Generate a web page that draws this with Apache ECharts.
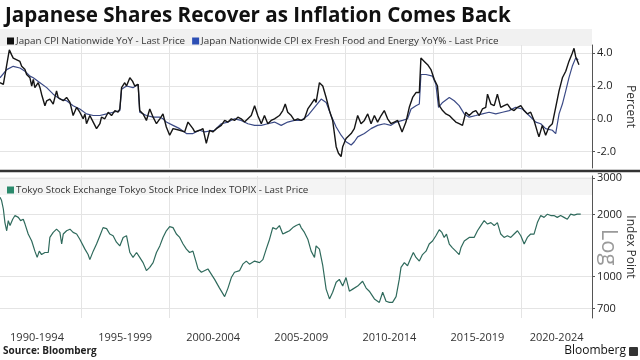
<!DOCTYPE html>
<html><head><meta charset="utf-8">
<script src="https://cdn.jsdelivr.net/npm/echarts@6/dist/echarts.min.js"></script>
<style>html,body{margin:0;padding:0;background:#fff}#c{width:640px;height:360px}</style>
</head><body><div id="c"></div>
<script>
const titleText = 'Japanese Shares Recover as Inflation Comes Back';
const cpiName = 'Japan CPI Nationwide YoY - Last Price';
const coreName = 'Japan Nationwide CPI ex Fresh Food and Energy YoY% - Last Price';
const topixName = 'Tokyo Stock Exchange Tokyo Stock Price Index TOPIX - Last Price';

const periodLabels = ['1990-1994','1995-1999','2000-2004','2005-2009','2010-2014','2015-2019','2020-2024'];
const periodCenters = [1992.5,1997.5,2002.5,2007.5,2012.5,2017.5,2022.5];
const gridYears = [1995,2000,2005,2010,2015,2020];
const pctTicks = [-2,0,2,4];
const idxTicks = [700,1000,2000,3000];

const cpiYears = [1990.40,1990.59,1990.93,1991.06,1991.15,1991.53,1991.63,1991.82,1991.91,1992.10,1992.20,1992.29,1992.38,1992.57,1992.67,1992.76,1992.95,1993.05,1993.23,1993.42,1993.61,1993.70,1993.80,1993.99,1994.18,1994.37,1994.55,1994.75,1994.93,1995.12,1995.22,1995.31,1995.50,1995.69,1995.88,1996.07,1996.16,1996.35,1996.54,1996.73,1996.92,1997.10,1997.20,1997.30,1997.48,1997.58,1997.77,1997.92,1998.05,1998.24,1998.33,1998.52,1998.71,1998.90,1999.09,1999.28,1999.47,1999.65,1999.84,2000.03,2000.22,2000.60,2000.88,2001.07,2001.35,2001.45,2001.73,2001.92,2002.11,2002.30,2002.48,2002.68,2002.77,2002.96,2003.15,2003.34,2003.53,2003.71,2003.90,2004.09,2004.28,2004.47,2004.66,2004.85,2005.03,2005.23,2005.41,2005.60,2005.79,2005.98,2006.26,2006.45,2006.59,2006.73,2006.93,2007.11,2007.30,2007.49,2007.68,2007.87,2008.06,2008.25,2008.34,2008.53,2008.72,2008.91,2009.10,2009.28,2009.48,2009.61,2009.76,2009.85,2010.04,2010.33,2010.51,2010.70,2010.89,2011.08,2011.27,2011.46,2011.65,2011.83,2012.03,2012.21,2012.40,2012.59,2012.78,2012.97,2013.22,2013.44,2013.63,2013.82,2014.01,2014.10,2014.20,2014.29,2014.48,2014.67,2014.86,2015.05,2015.23,2015.33,2015.52,2015.71,2015.90,2016.08,2016.27,2016.46,2016.65,2016.84,2017.03,2017.22,2017.41,2017.60,2017.78,2017.97,2018.07,2018.26,2018.45,2018.63,2018.82,2019.01,2019.20,2019.39,2019.58,2019.77,2019.96,2020.15,2020.33,2020.52,2020.71,2020.90,2020.99,2021.18,2021.37,2021.56,2021.75,2021.94,2022.13,2022.32,2022.51,2022.69,2022.88,2022.98,2023.07,2023.16,2023.26];
const cpiValues = [2.2,2.1,4.2,3.9,3.7,3.5,3.2,3.0,2.7,2.5,2.0,2.4,1.9,2.2,1.9,1.5,0.8,1.1,1.2,0.9,1.7,1.3,1.4,1.1,1.3,1.0,0.2,0.7,0.4,0.0,0.3,-0.3,0.2,-0.2,-0.6,-0.3,0.1,0.0,0.4,0.2,0.5,0.4,0.6,1.9,2.2,2.0,2.5,2.3,2.0,2.1,0.5,0.3,-0.1,0.6,0.1,-0.3,0.0,0.3,-0.5,-1.0,-0.6,-0.7,-0.8,-0.2,-0.6,-0.8,-0.7,-0.6,-1.5,-0.7,-0.8,-0.6,-0.7,-0.4,-0.1,-0.2,0.0,-0.1,0.1,0.0,-0.2,0.0,0.2,0.8,0.2,-0.3,0.2,-0.3,-0.1,0.0,0.2,0.5,0.9,0.4,0.2,-0.1,0.0,-0.1,0.0,0.6,0.9,1.2,1.0,2.2,2.0,1.3,0.5,-0.1,-1.7,-2.1,-2.3,-1.7,-1.2,-0.9,-0.6,0.2,-0.3,-0.1,0.3,-0.3,0.2,-0.2,0.2,0.5,0.0,-0.3,-0.2,-0.1,-0.8,-0.2,0.7,1.3,1.6,1.5,1.6,3.7,3.5,3.3,3.0,2.4,2.0,0.8,0.5,0.3,0.2,0.0,-0.2,-0.3,-0.4,0.4,0.2,0.4,0.5,0.2,0.6,0.7,1.5,0.9,0.8,1.5,0.7,0.8,0.9,0.6,0.5,0.7,0.8,0.5,0.3,0.4,-0.1,-0.8,-1.1,-0.4,-1.0,-0.5,-0.3,0.7,1.7,2.5,2.9,3.5,4.0,4.3,3.8,3.9,3.3];

const coreYears = [1990.40,1990.78,1991.15,1991.53,1991.82,1992.10,1992.29,1992.67,1993.05,1993.42,1993.80,1994.18,1994.55,1994.93,1995.31,1995.69,1996.07,1996.45,1996.82,1997.20,1997.30,1997.58,1997.95,1998.24,1998.33,1998.71,1999.09,1999.47,1999.65,1999.84,2000.22,2000.60,2000.98,2001.35,2001.73,2002.01,2002.58,2002.96,2003.34,2003.71,2004.09,2004.47,2004.85,2005.23,2005.60,2005.98,2006.36,2006.73,2007.11,2007.49,2007.87,2008.25,2008.63,2008.91,2009.19,2009.48,2009.76,2010.04,2010.33,2010.51,2010.70,2011.08,2011.46,2011.83,2012.21,2012.59,2012.88,2013.25,2013.53,2013.73,2014.01,2014.20,2014.29,2014.58,2014.95,2015.14,2015.29,2015.52,2015.90,2016.18,2016.46,2016.75,2017.03,2017.41,2017.78,2018.16,2018.54,2018.92,2019.30,2019.67,2020.05,2020.43,2020.81,2021.09,2021.37,2021.75,2021.94,2022.13,2022.32,2022.51,2022.69,2022.88,2023.07,2023.22];
const coreValues = [2.5,3.0,3.2,3.1,2.9,2.6,2.5,2.2,1.9,1.5,1.2,1.1,0.8,0.6,0.3,0.2,0.2,0.3,0.4,0.5,1.8,2.0,1.9,2.1,0.4,0.2,0.1,0.1,0.0,-0.2,-0.4,-0.6,-0.9,-0.9,-0.7,-0.8,-0.7,-0.3,-0.2,0.0,-0.1,-0.3,-0.4,-0.4,-0.3,-0.2,-0.4,-0.2,-0.1,-0.1,0.2,0.7,1.2,1.0,0.2,-0.5,-1.0,-1.4,-1.6,-1.4,-1.1,-0.9,-0.6,-0.4,-0.3,-0.4,-0.2,-0.1,0.0,0.6,0.8,0.9,2.7,2.7,2.6,2.1,0.7,1.0,1.3,1.1,0.8,0.3,0.1,0.2,0.3,0.4,0.3,0.4,0.5,0.7,0.6,0.2,-0.2,-0.3,-0.6,-0.7,-0.9,0.3,0.9,1.7,2.5,3.2,3.7,3.6];

const topixYears = [1990.40,1990.49,1990.59,1990.68,1990.78,1990.87,1990.97,1991.12,1991.25,1991.44,1991.57,1991.72,1991.82,1992.00,1992.20,1992.38,1992.51,1992.63,1992.76,1992.95,1993.14,1993.23,1993.42,1993.61,1993.80,1993.90,1993.99,1994.18,1994.37,1994.55,1994.75,1994.93,1995.22,1995.40,1995.50,1995.69,1995.88,1996.07,1996.25,1996.45,1996.63,1996.82,1997.01,1997.20,1997.39,1997.58,1997.77,1997.95,1998.15,1998.33,1998.52,1998.71,1998.90,1999.09,1999.28,1999.47,1999.65,1999.84,2000.03,2000.22,2000.41,2000.60,2000.79,2000.98,2001.16,2001.35,2001.54,2001.64,2001.83,2002.20,2002.58,2002.86,2003.15,2003.34,2003.53,2003.71,2004.00,2004.18,2004.38,2004.56,2004.85,2005.13,2005.32,2005.51,2005.70,2005.88,2006.08,2006.26,2006.45,2006.64,2006.83,2007.02,2007.21,2007.40,2007.49,2007.68,2007.87,2008.06,2008.25,2008.34,2008.53,2008.72,2008.91,2009.10,2009.28,2009.48,2009.66,2009.85,2010.04,2010.23,2010.42,2010.70,2010.98,2011.18,2011.36,2011.65,2011.93,2012.12,2012.31,2012.50,2012.68,2012.88,2013.06,2013.16,2013.35,2013.53,2013.73,2013.86,2014.01,2014.20,2014.38,2014.58,2014.76,2014.95,2015.14,2015.33,2015.48,2015.61,2015.74,2015.90,2016.08,2016.27,2016.46,2016.56,2016.75,2017.03,2017.31,2017.50,2017.69,2017.88,2018.07,2018.26,2018.45,2018.63,2018.82,2019.01,2019.20,2019.39,2019.58,2019.77,2019.96,2020.15,2020.33,2020.52,2020.71,2020.90,2021.09,2021.28,2021.47,2021.66,2021.84,2022.03,2022.22,2022.41,2022.60,2022.79,2022.98,2023.16,2023.36];
const topixValues = [2430,2340,2130,1830,1670,1870,1770,1900,1980,1940,1870,1900,1800,1610,1490,1330,1240,1330,1280,1310,1310,1550,1640,1700,1640,1440,1610,1670,1700,1640,1610,1520,1360,1280,1210,1330,1440,1580,1730,1710,1610,1580,1470,1410,1550,1580,1310,1240,1310,1240,1170,1070,1110,1170,1310,1410,1550,1670,1750,1730,1610,1550,1440,1360,1310,1330,1170,1090,1050,1090,970,880,800,880,990,1050,1070,1150,1190,1150,1190,1170,1210,1360,1520,1730,1700,1770,1610,1640,1670,1730,1770,1800,1730,1640,1520,1330,1240,1410,1360,1130,870,780,840,940,970,900,990,850,870,900,950,880,850,780,750,840,760,750,750,800,970,1110,1170,1130,1240,1310,1240,1190,1280,1330,1440,1490,1580,1690,1640,1550,1610,1440,1380,1330,1280,1380,1490,1550,1550,1670,1770,1870,1800,1830,1770,1830,1610,1550,1580,1550,1610,1670,1580,1440,1550,1610,1610,1830,1980,1940,2010,1980,1980,1940,1980,1940,1900,2010,1990,2010,2010];

const zip = (xs, ys) => xs.map((x, i) => [x, ys[i]]);
const FONT = "'Open Sans', 'Noto Sans', sans-serif";
const xMin = 1990.4, xMax = 2024.0;
const gridLine = { show: true, lineStyle: { color: '#e4e4e4', width: 1 } };

const chart = echarts.init(document.getElementById('c'), null, { renderer: 'canvas' });
chart.setOption({
  animation: false,
  backgroundColor: '#ffffff',
  textStyle: { fontFamily: FONT },
  title: { text: titleText, left: 0, top: 1, textStyle: { fontFamily: FONT, fontWeight: 'bold', fontSize: 20.6, color: '#111' } },
  graphic: [
    { type: 'rect', z: -10, shape: { x: 0, y: 29, width: 592, height: 17 }, style: { fill: '#f1f1f1' } },
    { type: 'rect', z: -10, shape: { x: 0, y: 177, width: 592, height: 18 }, style: { fill: '#f4f4f4' } },
    { type: 'line', z: 50, shape: { x1: 0, y1: 171, x2: 640, y2: 171 }, style: { stroke: '#333', lineWidth: 2.5 } },
    { type: 'text', style: { text: 'Source: Bloomberg', x: 3, y: 346, font: "bold 10px " + FONT, fill: '#222' } },
    { type: 'text', style: { text: 'Bloomberg', x: 626, y: 345, align: 'right', font: "12px " + FONT, fill: '#111' } },
    { type: 'rect', shape: { x: 629, y: 347, width: 9, height: 9, r: 1 }, style: { fill: '#333' } }
  ],
  legend: [
    { data: [cpiName, coreName], left: 2, top: 31, itemWidth: 7, itemHeight: 7, itemGap: 7, icon: 'rect',
      textStyle: { fontSize: 9.8, color: '#333', padding: [0, 0, 0, -3] } },
    { data: [topixName], left: 2, top: 180, itemWidth: 7, itemHeight: 7, icon: 'rect',
      textStyle: { fontSize: 9.8, color: '#333', padding: [0, 0, 0, -3] } }
  ],
  grid: [
    { left: 0, width: 592, top: 45, height: 123, outerBoundsMode: 'none', containLabel: false },
    { left: 0, width: 592, top: 176, height: 142, outerBoundsMode: 'none', containLabel: false }
  ],
  xAxis: [
    { gridIndex: 0, type: 'value', min: xMin, max: xMax, axisLine: { show: false },
      axisTick: { show: false, customValues: gridYears }, axisLabel: { show: false }, splitLine: gridLine },
    { gridIndex: 1, type: 'value', min: xMin, max: xMax, axisLine: { show: false },
      axisTick: { show: false, customValues: gridYears }, splitLine: gridLine,
      axisLabel: { show: true, customValues: periodCenters, margin: 14, fontSize: 11, color: '#333',
        formatter: v => { const i = periodCenters.findIndex(c => Math.abs(c - v) < 1e-6); return i < 0 ? '' : (i === periodLabels.length - 1 ? '{l|' + periodLabels[i] + '}' : periodLabels[i]); },
        rich: { l: { fontSize: 11, color: '#333', padding: [0, 18, 0, 0] } } } }
  ],
  yAxis: [
    { gridIndex: 0, type: 'value', position: 'right', min: -3, max: 4.5,
      axisLine: { show: true, lineStyle: { color: '#555' } },
      axisTick: { show: true, length: 3, customValues: pctTicks, lineStyle: { color: '#555' } },
      axisLabel: { customValues: pctTicks, margin: 5, fontSize: 11, color: '#222', formatter: v => v.toFixed(1) },
      splitLine: gridLine,
      name: 'Percent', nameLocation: 'middle', nameRotate: -90, nameGap: 32, nameMoveOverlap: false,
      nameTextStyle: { fontSize: 12, color: '#333' } },
    { gridIndex: 1, type: 'log', logBase: 10, position: 'right', min: 630, max: 3080,
      axisLine: { show: true, lineStyle: { color: '#555' } },
      axisTick: { show: true, length: 3, customValues: idxTicks, lineStyle: { color: '#555' } },
      axisLabel: { customValues: idxTicks, margin: 5, fontSize: 11, color: '#222', formatter: v => String(Math.round(v)) },
      splitLine: gridLine,
      name: 'Index Point', nameLocation: 'middle', nameRotate: -90, nameGap: 32, nameMoveOverlap: false,
      nameTextStyle: { fontSize: 12, color: '#333' } },
    { gridIndex: 1, type: 'log', logBase: 10, position: 'right', min: 630, max: 3080,
      axisLine: { show: false }, axisTick: { show: false }, axisLabel: { show: false }, splitLine: { show: false },
      name: 'Log', nameLocation: 'middle', nameRotate: -90, nameGap: 5, nameMoveOverlap: false,
      nameTextStyle: { fontSize: 22, color: '#9a9a9a' } }
  ],
  series: [
    { name: cpiName, type: 'line', xAxisIndex: 0, yAxisIndex: 0, data: zip(cpiYears, cpiValues),
      showSymbol: false, lineStyle: { color: '#151515', width: 1.4 }, itemStyle: { color: '#111' }, z: 3 },
    { name: coreName, type: 'line', xAxisIndex: 0, yAxisIndex: 0, data: zip(coreYears, coreValues),
      showSymbol: false, lineStyle: { color: '#3b4a86', width: 1.2 }, itemStyle: { color: '#2d4fb5' }, z: 2 },
    { name: topixName, type: 'line', xAxisIndex: 1, yAxisIndex: 1, data: zip(topixYears, topixValues),
      showSymbol: false, lineStyle: { color: '#2f6a5c', width: 1.2 }, itemStyle: { color: '#2b8a6c' } }
  ]
});
</script></body></html>
